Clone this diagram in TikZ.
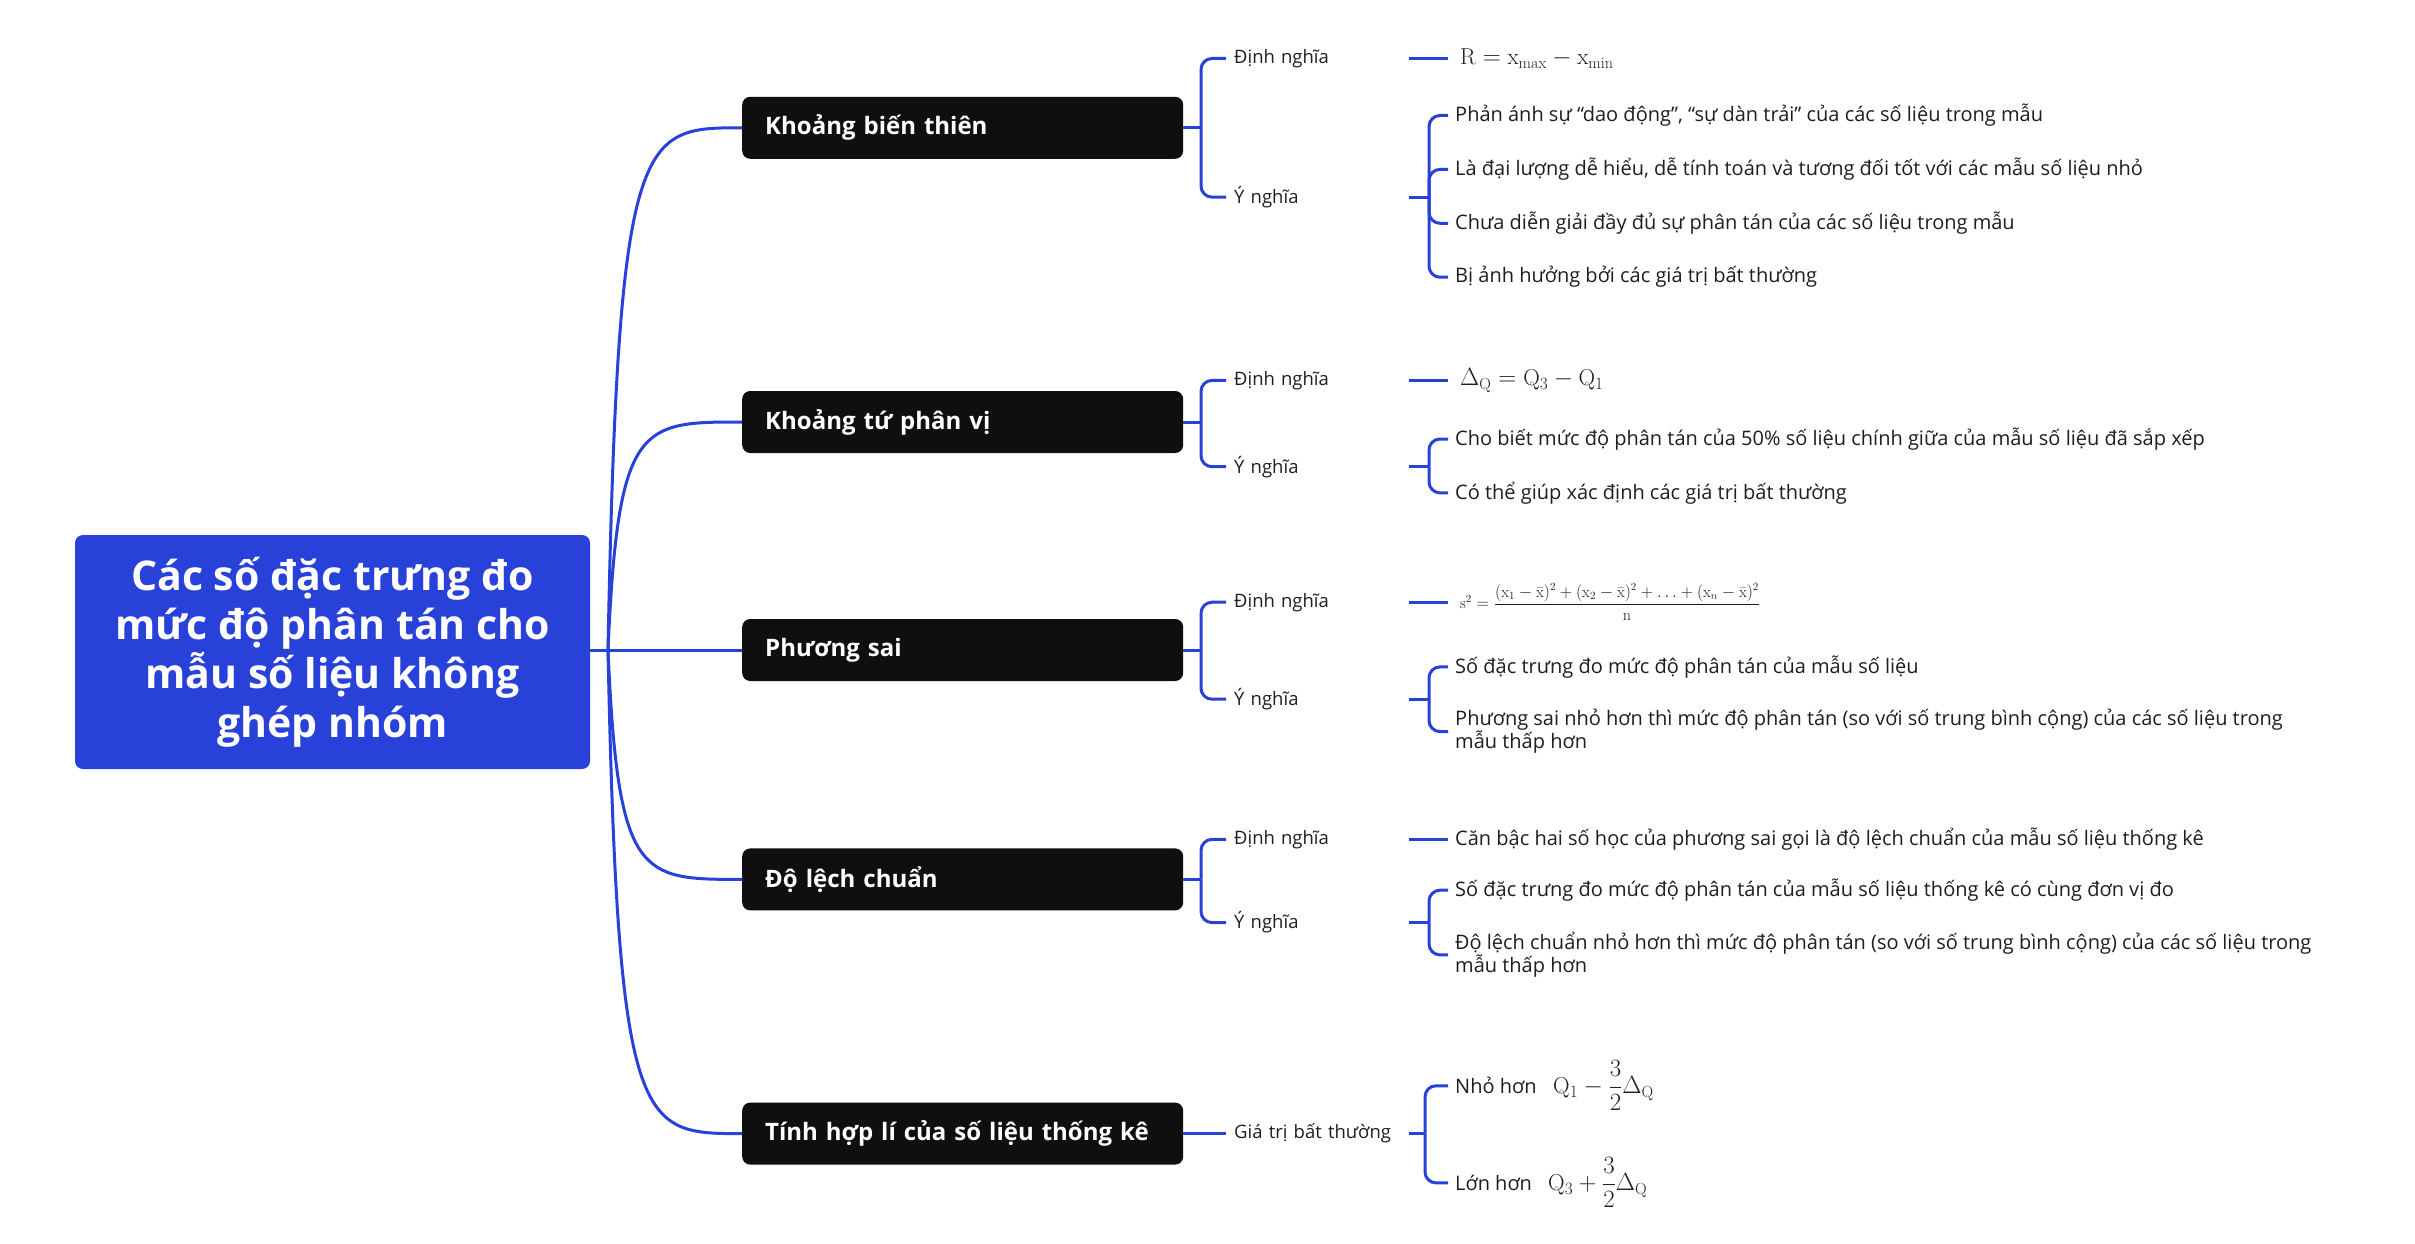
\documentclass[tikz,border=0pt]{standalone}
\usepackage{fontspec}
\newfontfamily\mapfont{Open Sans}
\definecolor{mapblue}{HTML}{2741D9}
\definecolor{boxblack}{HTML}{0F0F0F}
\definecolor{inkgray}{HTML}{1E1E1E}

\begin{document}
\begin{tikzpicture}[x=1pt,y=-1pt]
  \tikzstyle{root}=[rounded corners=8pt,fill=mapblue,text=white,font=\mapfont\bfseries\fontsize{41}{49}\selectfont,align=center,minimum width=515pt,minimum height=234pt,inner sep=0pt]
  \tikzstyle{topic}=[anchor=west,rounded corners=8pt,fill=boxblack,text=white,font=\mapfont\bfseries\fontsize{24}{29}\selectfont,text width=395pt,inner xsep=23pt,minimum height=62pt,align=left]
  \tikzstyle{sub}=[anchor=west,text=inkgray,font=\mapfont\fontsize{18.5}{23}\selectfont,text width=167pt,inner xsep=8pt,inner ysep=2pt,align=left]
  \tikzstyle{leaf}=[anchor=west,text=inkgray,font=\mapfont\fontsize{20}{23}\selectfont,inner xsep=7pt,inner ysep=2pt,align=left]
  \tikzstyle{formula}=[anchor=west,text=inkgray,font=\fontsize{23}{27}\selectfont,inner xsep=12pt,inner ysep=0pt]
  \tikzstyle{edge}=[draw=mapblue,line width=3pt]
  \tikzstyle{bracket}=[edge,rounded corners=11pt]

  \useasboundingbox (0,0) rectangle (2415,1244);

  % root and its fork
  \node[root] (root) at (332.5,652) {Các số đặc trưng đo\\mức độ phân tán cho\\mẫu số liệu không\\ghép nhóm};
  \coordinate (j) at (608,650);
  \draw[edge] (root.east |- j) -- (j);

  % topics
  \node[topic] (t1) at (742,127.8) {Khoảng biến thiên};
  \node[topic] (t2) at (742,422) {Khoảng tứ phân vị};
  \node[topic] (t3) at (742,650) {Phương sai};
  \node[topic] (t4) at (742,879.4) {Độ lệch chuẩn};
  \node[topic] (t5) at (742,1133.6) {Tính hợp lí của số liệu thống kê};
  \foreach \t/\y in {t1/127.8,t2/422,t4/879.4,t5/1133.6}
    \draw[edge] (j) .. controls (618,\y) and (640,\y) .. (\t.west);
  \draw[edge] (j) -- (t3.west);

  % Khoang bien thien
  \coordinate (f1) at (1201,127.8);
  \node[sub] (d1) at (1226,58.5) {Định nghĩa};
  \node[sub] (y1) at (1226,197.1) {Ý nghĩa};
  \draw[edge] (t1.east) -- (f1);
  \draw[bracket] (f1) |- (d1.west);
  \draw[bracket] (f1) |- (y1.west);
  \node[formula] (r1) at (1448,58.5) {$\mathrm{R}=\mathrm{x}_{\mathrm{max}}-\mathrm{x}_{\mathrm{min}}$};
  \draw[edge] (d1.east) -- (r1.west);
  \coordinate (g1) at (1429,197.1);
  \draw[edge] (y1.east) -- (g1);
  \foreach \n/\y/\txt in {1/115.5/{Phản ánh sự “dao động”, “sự dàn trải” của các số liệu trong mẫu},
      2/169.4/{Là đại lượng dễ hiểu, dễ tính toán và tương đối tốt với các mẫu số liệu nhỏ},
      3/223.3/{Chưa diễn giải đầy đủ sự phân tán của các số liệu trong mẫu},
      4/277.2/{Bị ảnh hưởng bởi các giá trị bất thường}}{
    \node[leaf] (l1\n) at (1448,\y) {\txt};
    \draw[bracket] (g1) |- (l1\n.west);
  }

  % Khoang tu phan vi
  \coordinate (f2) at (1201,422);
  \node[sub] (d2) at (1226,380.4) {Định nghĩa};
  \node[sub] (y2) at (1226,466.7) {Ý nghĩa};
  \draw[edge] (t2.east) -- (f2);
  \draw[bracket] (f2) |- (d2.west);
  \draw[bracket] (f2) |- (y2.west);
  \node[formula] (r2) at (1448,380.4) {$\Delta_{\mathrm{Q}}=\mathrm{Q}_3-\mathrm{Q}_1$};
  \draw[edge] (d2.east) -- (r2.west);
  \coordinate (g2) at (1429,466.7);
  \draw[edge] (y2.east) -- (g2);
  \foreach \n/\y/\txt in {1/439/{Cho biết mức độ phân tán của 50\% số liệu chính giữa của mẫu số liệu đã sắp xếp},
      2/492.9/{Có thể giúp xác định các giá trị bất thường}}{
    \node[leaf] (l2\n) at (1448,\y) {\txt};
    \draw[bracket] (g2) |- (l2\n.west);
  }

  % Phuong sai
  \coordinate (f3) at (1201,650);
  \node[sub] (d3) at (1226,602.2) {Định nghĩa};
  \node[sub] (y3) at (1226,699.2) {Ý nghĩa};
  \draw[edge] (t3.east) -- (f3);
  \draw[bracket] (f3) |- (d3.west);
  \draw[bracket] (f3) |- (y3.west);
  \node[formula,font=\fontsize{16}{19}\selectfont] (r3) at (1448,602.2)
    {$\mathrm{s}^2=\displaystyle\frac{(\mathrm{x}_1-\bar{\mathrm{x}})^2+(\mathrm{x}_2-\bar{\mathrm{x}})^2+\ldots+(\mathrm{x}_n-\bar{\mathrm{x}})^2}{\mathrm{n}}$};
  \draw[edge] (d3.east) -- (r3.west);
  \coordinate (g3) at (1429,699.2);
  \draw[edge] (y3.east) -- (g3);
  \node[leaf] (l31) at (1448,666.9) {Số đặc trưng đo mức độ phân tán của mẫu số liệu};
  \node[leaf] (l32) at (1448,731.6) {Phương sai nhỏ hơn thì mức độ phân tán (so với số trung bình cộng) của các số liệu trong\\mẫu thấp hơn};
  \draw[bracket] (g3) |- (l31.west);
  \draw[bracket] (g3) |- (l32.west);

  % Do lech chuan
  \coordinate (f4) at (1201,879.4);
  \node[sub] (d4) at (1226,839.4) {Định nghĩa};
  \node[sub] (y4) at (1226,922.6) {Ý nghĩa};
  \draw[edge] (t4.east) -- (f4);
  \draw[bracket] (f4) |- (d4.west);
  \draw[bracket] (f4) |- (y4.west);
  \node[leaf] (r4) at (1448,839.4) {Căn bậc hai số học của phương sai gọi là độ lệch chuẩn của mẫu số liệu thống kê};
  \draw[edge] (d4.east) -- (r4.west);
  \coordinate (g4) at (1429,922.6);
  \draw[edge] (y4.east) -- (g4);
  \node[leaf] (l41) at (1448,890.2) {Số đặc trưng đo mức độ phân tán của mẫu số liệu thống kê có cùng đơn vị đo};
  \node[leaf] (l42) at (1448,954.9) {Độ lệch chuẩn nhỏ hơn thì mức độ phân tán (so với số trung bình cộng) của các số liệu trong\\mẫu thấp hơn};
  \draw[bracket] (g4) |- (l41.west);
  \draw[bracket] (g4) |- (l42.west);

  % Tinh hop li
  \node[sub] (v5) at (1226,1133.6) {Giá trị bất thường};
  \draw[edge] (t5.east) -- (v5.west);
  \coordinate (g5) at (1425,1133.6);
  \draw[edge] (v5.east) -- (g5);
  \node[leaf] (n5) at (1448,1085.8) {Nhỏ hơn};
  \node[leaf] (m5) at (1448,1182.9) {Lớn hơn};
  \draw[bracket] (g5) |- (n5.west);
  \draw[bracket] (g5) |- (m5.west);
  \node[formula] (qn) at (1541,1085.8) {$\mathrm{Q}_1-\displaystyle\frac{3}{2}\Delta_{\mathrm{Q}}$};
  \node[formula] (qm) at (1536,1182.9) {$\mathrm{Q}_3+\displaystyle\frac{3}{2}\Delta_{\mathrm{Q}}$};
\end{tikzpicture}
\end{document}
